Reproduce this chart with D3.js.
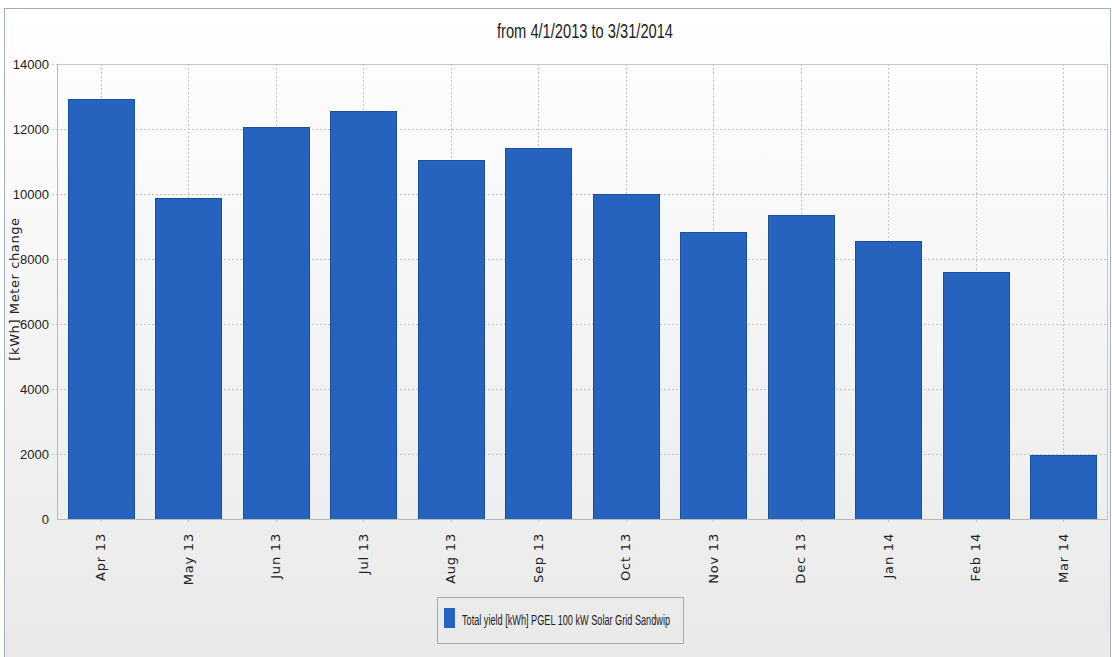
<!DOCTYPE html>
<html>
<head>
<meta charset="utf-8">
<script src="https://cdn.jsdelivr.net/npm/d3@7"></script>
<style>
  body { margin: 0; background: #fff; }
  .narrow { font-family: "Liberation Sans Narrow", "Arial Narrow", sans-serif; }
</style>
</head>
<body>
<div id="vis"></div>
<script>
// chart data
const months = ['Apr 13', 'May 13', 'Jun 13', 'Jul 13', 'Aug 13', 'Sep 13',
                'Oct 13', 'Nov 13', 'Dec 13', 'Jan 14', 'Feb 14', 'Mar 14'];
const yieldKwh = [12930, 9870, 12070, 12550, 11040, 11420,
                  10000, 8820, 9340, 8540, 7590, 1970];
const yTicks = [0, 2000, 4000, 6000, 8000, 10000, 12000, 14000];
const title = 'from 4/1/2013 to 3/31/2014';
const yLabel = '[kWh] Meter change';
const seriesName = 'Total yield [kWh] PGEL 100 kW Solar Grid Sandwip';

const W = 1112, H = 657;
const plot = {left: 57, right: 1107, top: 64, bottom: 519};
const barColor = '#2563be';

const svg = d3.select('#vis')
    .append('svg')
    .attr('width', W)
    .attr('height', H);

// background gradient
const grad = svg.append('defs').append('linearGradient')
    .attr('id', 'bg')
    .attr('x1', 0).attr('y1', 0).attr('x2', 0).attr('y2', 1);
grad.append('stop').attr('offset', '0%').attr('stop-color', '#ffffff');
grad.append('stop').attr('offset', '100%').attr('stop-color', '#e9e9e9');

svg.append('rect')
    .attr('x', 4.5).attr('y', 8.5)
    .attr('width', W - 6).attr('height', H)
    .attr('fill', 'url(#bg)')
    .attr('stroke', '#9fb0c0');

const x = d3.scaleBand()
    .domain(months)
    .range([plot.left, plot.right])
    .paddingInner(0.25)
    .paddingOuter(0.125);

const y = d3.scaleLinear()
    .domain([0, 14000])
    .range([plot.bottom, plot.top]);

// grid lines
svg.append('g')
    .selectAll('line')
    .data(yTicks.slice(1))
    .enter()
    .append('line')
    .attr('x1', plot.left - 5)
    .attr('x2', plot.right)
    .attr('y1', d => y(d) + 0.5)
    .attr('y2', d => y(d) + 0.5)
    .attr('stroke', '#c4c4c4')
    .attr('stroke-dasharray', '2,2');

svg.append('g')
    .selectAll('line')
    .data(months)
    .enter()
    .append('line')
    .attr('x1', d => Math.round(x(d) + x.bandwidth() / 2) + 0.5)
    .attr('x2', d => Math.round(x(d) + x.bandwidth() / 2) + 0.5)
    .attr('y1', plot.top)
    .attr('y2', plot.bottom + 5)
    .attr('stroke', '#c4c4c4')
    .attr('stroke-dasharray', '2,2');

// plot outline
svg.append('rect')
    .attr('x', plot.left + 0.5)
    .attr('y', plot.top + 0.5)
    .attr('width', plot.right - plot.left)
    .attr('height', plot.bottom - plot.top)
    .attr('fill', 'none')
    .attr('stroke', '#c8c8c8');

// bars
svg.selectAll('rect.bar')
    .data(months)
    .enter()
    .append('rect')
    .attr('class', 'bar')
    .attr('x', d => Math.round(x(d)) + 0.5)
    .attr('y', (d, i) => Math.round(y(yieldKwh[i])) + 0.5)
    .attr('width', Math.round(x.bandwidth()))
    .attr('height', (d, i) => plot.bottom - Math.round(y(yieldKwh[i])))
    .attr('fill', barColor)
    .attr('stroke', '#1c4f96');

// y axis
const yAxis = d3.axisLeft(y)
    .tickValues(yTicks)
    .tickFormat(d3.format('d'))
    .tickSize(0)
    .tickPadding(8);
svg.append('g')
    .attr('transform', `translate(${plot.left},0)`)
    .call(yAxis)
    .call(g => g.select('.domain').attr('stroke', '#b8b8b8'))
    .selectAll('text')
    .attr('class', 'narrow')
    .attr('font-size', 13)
    .attr('fill', '#222');

// x axis
const xAxis = d3.axisBottom(x).tickSize(0).tickPadding(0);
svg.append('g')
    .attr('transform', `translate(0,${plot.bottom})`)
    .call(xAxis)
    .call(g => g.select('.domain').attr('stroke', '#b8b8b8'))
    .selectAll('text')
    .attr('font-family', '"DejaVu Sans", Verdana, sans-serif')
    .attr('font-size', 13)
    .attr('letter-spacing', 0.8)
    .attr('fill', '#222')
    .attr('text-anchor', 'end')
    .attr('dy', '0.35em')
    .attr('transform', 'translate(0,14) rotate(-90)');

// title
svg.append('text')
    .attr('class', 'narrow')
    .attr('x', 585)
    .attr('y', 38)
    .attr('text-anchor', 'middle')
    .attr('font-size', 20)
    .attr('textLength', 176)
    .attr('lengthAdjust', 'spacingAndGlyphs')
    .attr('fill', '#222')
    .text(title);

// y label
svg.append('text')
    .attr('transform', 'translate(19,289) rotate(-90)')
    .attr('text-anchor', 'middle')
    .attr('font-family', '"DejaVu Sans", Verdana, sans-serif')
    .attr('font-size', 13)
    .attr('letter-spacing', 0.6)
    .attr('fill', '#222')
    .text(yLabel);

// legend
const legend = svg.append('g');
legend.append('rect')
    .attr('x', 437.5).attr('y', 597.5)
    .attr('width', 246).attr('height', 46)
    .attr('fill', 'none')
    .attr('stroke', '#a8a8a8');
legend.append('rect')
    .attr('x', 444).attr('y', 608)
    .attr('width', 11).attr('height', 20)
    .attr('fill', barColor);
legend.append('text')
    .attr('class', 'narrow')
    .attr('x', 462)
    .attr('y', 625)
    .attr('font-size', 14)
    .attr('textLength', 208)
    .attr('lengthAdjust', 'spacingAndGlyphs')
    .attr('fill', '#222')
    .text(seriesName);
</script>
</body>
</html>
